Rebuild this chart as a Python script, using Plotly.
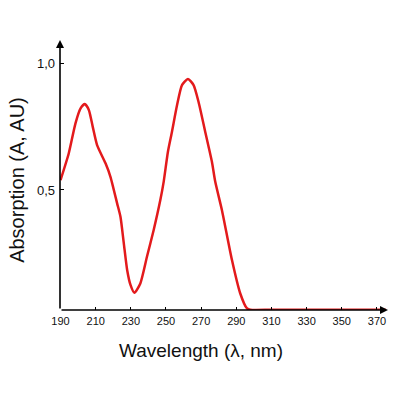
import plotly.graph_objects as go

# absorption spectrum
wavelength = [190, 194.7, 198.5, 201.4, 203.8, 206.1, 208.3, 210.8, 215.6, 218.4,
              222.2, 224.1, 226, 227.9, 229.8, 232, 235.4, 239.2, 243, 246.8,
              248.7, 251.1, 253.4, 256.3, 259.1, 262.5, 265.7, 268.5, 272.3, 276.1,
              278, 281.8, 287.5, 292.2, 296, 298, 310, 340, 375]
absorption = [0.539, 0.645, 0.763, 0.822, 0.839, 0.816, 0.75, 0.677, 0.605, 0.552,
              0.447, 0.394, 0.289, 0.184, 0.125, 0.094, 0.131, 0.237, 0.342, 0.461,
              0.533, 0.651, 0.73, 0.835, 0.914, 0.938, 0.914, 0.848, 0.73, 0.612,
              0.533, 0.421, 0.224, 0.092, 0.033, 0.027, 0.027, 0.027, 0.027]

x_ticks = list(range(190, 371, 20))
y_ticks = [0.5, 1.0]
y_tick_text = ["0,5", "1,0"]

fig = go.Figure()
fig.add_trace(go.Scatter(
    x=wavelength, y=absorption, mode="lines",
    line=dict(color="#e31a1c", width=2.5, shape="spline", smoothing=0.6),
    hoverinfo="skip"))

# axis lines with arrow heads
fig.add_annotation(xref="x domain", yref="y domain", axref="x domain", ayref="y domain",
                   x=0, y=1, ax=0, ay=0, showarrow=True, arrowhead=2,
                   arrowsize=1, arrowwidth=1.6, arrowcolor="black", text="")
fig.add_annotation(xref="x domain", yref="y domain", axref="x domain", ayref="y domain",
                   x=1, y=0, ax=0, ay=0, showarrow=True, arrowhead=2,
                   arrowsize=1, arrowwidth=1.6, arrowcolor="black", text="")

# axis titles
fig.add_annotation(xref="paper", yref="paper", x=0.43, y=0, yshift=-40,
                   xanchor="center", yanchor="middle", showarrow=False,
                   text="Wavelength (λ, nm)", font=dict(size=19, color="#111111"))
fig.add_annotation(xref="paper", yref="paper", x=0, y=0.482, xshift=-43,
                   xanchor="center", yanchor="middle", showarrow=False, textangle=-90,
                   text="Absorption (A, AU)", font=dict(size=20, color="#111111"))

fig.update_layout(
    width=400, height=400,
    margin=dict(l=52, r=20, t=32, b=98),
    paper_bgcolor="white", plot_bgcolor="white",
    showlegend=False,
    font=dict(family="Liberation Sans, Arial, sans-serif", color="#111111"),
    xaxis=dict(range=[189.7, 376.3], tickvals=x_ticks, ticks="inside",
               ticklen=3, tickcolor="black", showgrid=False, zeroline=False,
               showline=False, tickfont=dict(size=11), automargin=False,
               ticklabelstandoff=3),
    yaxis=dict(range=[0.026, 1.092], tickvals=y_ticks, ticktext=y_tick_text,
               ticks="inside", ticklen=4, tickcolor="black", showgrid=False,
               zeroline=False, showline=False, tickfont=dict(size=13),
               automargin=False, ticklabelstandoff=4),
)

fig.write_html("out.html")
